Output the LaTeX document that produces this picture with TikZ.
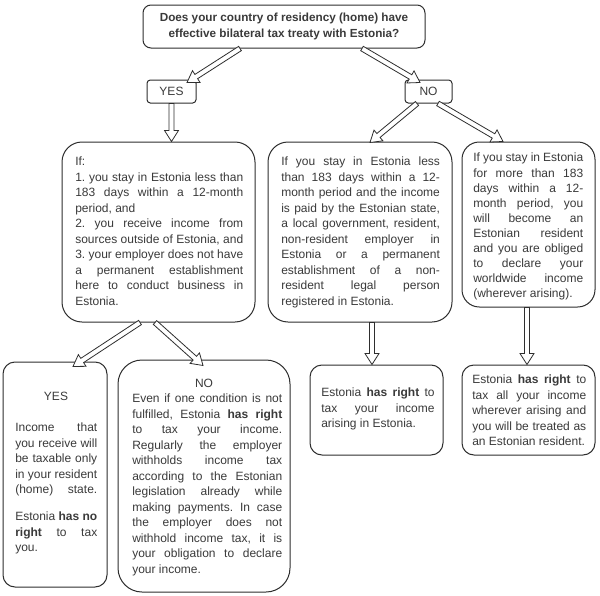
\documentclass[tikz,border=0pt]{standalone}
\usepackage{fontspec}
\setmainfont{Liberation Sans}
\usetikzlibrary{calc}
\definecolor{ink}{HTML}{3A3A3A}
\definecolor{edge}{HTML}{2E2E2E}
\newcommand\J[1]{\makebox[\hsize][s]{#1}}
\newcommand\Ll[1]{\makebox[\hsize][l]{#1}}
\hbadness=10000
\hfuzz=30pt
\newcommand\harrow[2]{%
  \coordinate (hc) at ($(#2)!8.25pt!(#1)$);
  \filldraw[hollow] ($(#1)!1.9pt!90:(#2)$) -- ($(hc)!1.9pt!90:(#2)$) -- ($(hc)!5.25pt!90:(#2)$) -- (#2)
    -- ($(hc)!5.25pt!-90:(#2)$) -- ($(hc)!1.9pt!-90:(#2)$) -- ($(#1)!1.9pt!-90:(#2)$) -- cycle;}
\begin{document}
\begin{tikzpicture}[x=0.75pt,y=-0.75pt,
  box/.style={draw=edge, line width=0.75pt, rectangle, inner sep=0pt, fill=white},
  txt/.style={inner sep=0pt, anchor=north west, align=justify, text=ink,
    font=\fontsize{9}{11.6}\selectfont\frenchspacing,
    execute at begin node={\parindent=0pt\spaceskip=0pt\xspaceskip=0pt}},
  lbl/.style={inner sep=0pt, text=ink, font=\fontsize{9}{11}\selectfont},
  hollow/.style={draw=edge, fill=white, line width=0.6pt, line join=miter}]
\fill[white] (0,0) rectangle (600,596);
\useasboundingbox (0,0) rectangle (600,596);

% boxes
\node[box, rounded corners=6pt, minimum width=211.5pt, minimum height=32.25pt,
  align=center, text=ink, font=\bfseries\fontsize{8.8}{12}\selectfont] (top) at (284,26.5)
  {Does your country of residency (home) have\\effective bilateral tax treaty with Estonia?};
\node[box, rounded corners=2.5pt, minimum width=36.75pt, minimum height=17.25pt,
  text=ink, font=\fontsize{9}{11}\selectfont] (yes) at (171.5,91.5) {YES};
\node[box, rounded corners=2.5pt, minimum width=35.25pt, minimum height=17.25pt,
  text=ink, font=\fontsize{9}{11}\selectfont] (no) at (428.5,91.5) {NO};
\node[box, rounded corners=15pt, minimum width=144.75pt, minimum height=135pt] (ifbox) at (158.5,232) {};
\node[box, rounded corners=15pt, minimum width=138pt, minimum height=135pt] (mid) at (360,232) {};
\node[box, rounded corners=13pt, minimum width=99.75pt, minimum height=123.75pt] (right) at (528.5,224.5) {};
\node[box, rounded corners=9pt, minimum width=78pt, minimum height=168.75pt] (yesb) at (55,474.5) {};
\node[box, rounded corners=18pt, minimum width=129pt, minimum height=174pt] (nob) at (204,476) {};
\node[box, rounded corners=9pt, minimum width=99.75pt, minimum height=67.5pt] (midb) at (376.5,410) {};
\node[box, rounded corners=9pt, minimum width=99.75pt, minimum height=67.5pt] (rightb) at (528.5,410) {};

% texts
\node[txt, text width=126pt] (iftext) at (75,157) {\Ll{If:}\\
\J{1. you stay in Estonia less than}\\
\J{183 days within a 12-month}\\
\Ll{period, and}\\
\J{2. you receive income from}\\
\J{sources outside of Estonia, and}\\
\J{3. your employer does not have}\\
\J{a permanent establishment}\\
\J{here to conduct business in}\\
\Ll{Estonia.}};

\node[txt, text width=119pt] (midtext) at (281,157) {\J{If you stay in Estonia less}\\
\J{than 183 days within a 12-}\\
\J{month period and the income}\\
\J{is paid by the Estonian state,}\\
\J{a local government, resident,}\\
\J{non-resident employer in}\\
\J{Estonia or a permanent}\\
\J{establishment of a non-}\\
\J{resident legal person}\\
\Ll{registered in Estonia.}};

\node[txt, text width=82.5pt, font=\fontsize{9}{11.3}\selectfont\frenchspacing] (righttext) at (473,153) {\J{If you stay in Estonia}\\
\J{for more than 183}\\
\J{days within a 12-}\\
\J{month period, you}\\
\J{will become an}\\
\J{Estonian resident}\\
\J{and you are obliged}\\
\J{to declare your}\\
\J{worldwide income}\\
\Ll{(wherever arising).}};

\node[lbl] (yeslbl) at (56,396) {YES};
\node[txt, text width=61.5pt] (yestext) at (15,423) {\J{Income that}\\
\J{you receive will}\\
\J{be taxable only}\\
\J{in your resident}\\
\J{(home) state.}\\[8.6pt]
\J{Estonia \textbf{has no}}\\
\J{\textbf{right} to tax}\\
\Ll{you.}};

\node[lbl] (nolbl) at (204,383) {NO};
\node[txt, text width=112.5pt] (notext) at (132,394) {\J{Even if one condition is not}\\
\J{fulfilled, Estonia \textbf{has right}}\\
\J{to tax your income.}\\
\J{Regularly the employer}\\
\J{withholds income tax}\\
\J{according to the Estonian}\\
\J{legislation already while}\\
\J{making payments. In case}\\
\J{the employer does not}\\
\J{withhold income tax, it is}\\
\J{your obligation to declare}\\
\Ll{your income.}};

\node[txt, text width=85pt] (midbtext) at (321,388) {\J{Estonia \textbf{has right} to}\\
\J{tax your income}\\
\Ll{arising in Estonia.}};

\node[txt, text width=85.5pt] (rightbtext) at (472,375) {\J{Estonia \textbf{has right} to}\\
\J{tax all your income}\\
\J{wherever arising and}\\
\J{you will be treated as}\\
\Ll{an Estonian resident.}};

% connector end points
\coordinate (a1s) at ($(top.south)+(-44,0)$);
\coordinate (a1e) at ($(yes.north)+(15.5,3)$);
\coordinate (a2s) at ($(top.south)+(78,0)$);
\coordinate (a2e) at ($(no.north)+(-8.5,3)$);
\coordinate (a3s) at (yes.south);
\coordinate (a3e) at ($(ifbox.north)+(13,0)$);
\coordinate (a4s) at ($(no.south)+(-11.5,0)$);
\coordinate (a4e) at ($(mid.north)+(10,1)$);
\coordinate (a5s) at ($(no.south)+(9.5,0)$);
\coordinate (a5e) at ($(right.north)+(-25.5,0)$);
\coordinate (a6s) at ($(ifbox.south)+(-18.5,0)$);
\coordinate (a6e) at ($(yesb.north)+(18,5)$);
\coordinate (a7s) at ($(ifbox.south)+(-3.5,0)$);
\coordinate (a7e) at ($(nob.north)+(-1,6)$);
\coordinate (a8s) at ($(mid.south)+(12,0)$);
\coordinate (a8e) at ($(midb.north)+(-4.5,0)$);
\coordinate (a9s) at ($(right.south)+(-1.5,0)$);
\coordinate (a9e) at ($(rightb.north)+(-1.5,0)$);

% hollow arrows
\harrow{a1s}{a1e}
\harrow{a2s}{a2e}
\harrow{a3s}{a3e}
\harrow{a4s}{a4e}
\harrow{a5s}{a5e}
\harrow{a6s}{a6e}
\harrow{a7s}{a7e}
\harrow{a8s}{a8e}
\harrow{a9s}{a9e}
\end{tikzpicture}
\end{document}
